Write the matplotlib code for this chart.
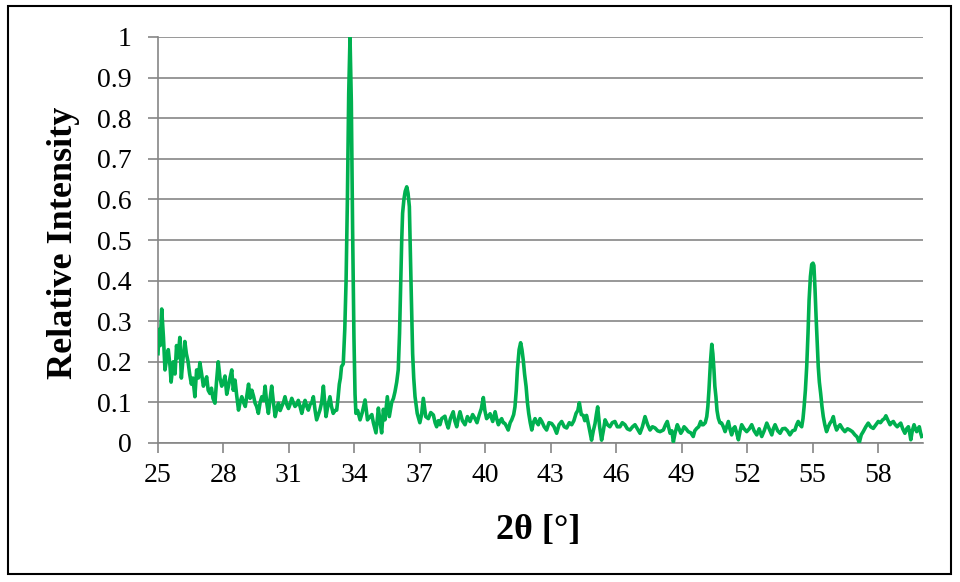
#!/usr/bin/env python3
# -*- coding: utf-8 -*-

import numpy as np
import matplotlib
matplotlib.use('Agg')
from matplotlib import pyplot as plt
from matplotlib.patches import Rectangle

# 2θ / relative intensity, split in four ranges
theta_low = [
    25.00, 25.05, 25.10, 25.17, 25.25, 25.32, 25.40, 25.47, 25.55, 25.60,
    25.70, 25.78, 25.85, 25.92, 26.00, 26.07, 26.15, 26.23, 26.30, 26.38,
    26.45, 26.53, 26.60, 26.69, 26.77, 26.85, 26.92, 27.00, 27.08, 27.15,
    27.23, 27.30, 27.38, 27.45, 27.52, 27.61, 27.68, 27.76, 27.84, 27.92,
    28.00, 28.07, 28.15, 28.23, 28.30, 28.38, 28.45, 28.53, 28.60, 28.69,
    28.76, 28.84, 28.92, 29.00, 29.08, 29.15, 29.22, 29.30, 29.38, 29.45,
    29.52, 29.60, 29.68, 29.76, 29.84, 29.91, 29.98, 30.06, 30.14, 30.21,
    30.29, 30.37, 30.45, 30.52, 30.60, 30.67, 30.75, 30.82, 30.90, 30.98,
    31.05, 31.13, 31.20, 31.28, 31.36, 31.43, 31.51, 31.59, 31.66, 31.74,
    31.82, 31.89, 31.97, 32.05, 32.12, 32.20, 32.27, 32.35, 32.42, 32.50,
    32.58, 32.64, 32.70, 32.78, 32.88, 32.95, 33.03, 33.11, 33.19, 33.25,
    33.31, 33.36, 33.41, 33.49]
int_low = [
    0.22, 0.28, 0.24, 0.33, 0.26, 0.18, 0.21, 0.23, 0.19, 0.15,
    0.20, 0.17, 0.24, 0.21, 0.26, 0.16, 0.21, 0.25, 0.22, 0.20,
    0.17, 0.145, 0.16, 0.114, 0.18, 0.16, 0.198, 0.17, 0.14, 0.15,
    0.163, 0.13, 0.122, 0.135, 0.11, 0.098, 0.15, 0.20, 0.16, 0.14,
    0.15, 0.165, 0.12, 0.14, 0.16, 0.18, 0.13, 0.155, 0.12, 0.081,
    0.10, 0.114, 0.10, 0.09, 0.12, 0.145, 0.11, 0.13, 0.115, 0.098,
    0.09, 0.073, 0.10, 0.114, 0.105, 0.14, 0.10, 0.073, 0.11, 0.14,
    0.10, 0.065, 0.085, 0.098, 0.08, 0.09, 0.10, 0.114, 0.095, 0.085,
    0.095, 0.11, 0.10, 0.09, 0.095, 0.105, 0.09, 0.073, 0.09, 0.105,
    0.09, 0.081, 0.095, 0.10, 0.114, 0.08, 0.057, 0.07, 0.081, 0.10,
    0.14, 0.10, 0.065, 0.09, 0.114, 0.09, 0.073, 0.08, 0.081, 0.11,
    0.145, 0.16, 0.188, 0.195]

theta_main = [
    33.56, 33.62, 33.68, 33.74, 33.80, 33.86, 33.92, 33.98, 34.03, 34.07,
    34.15, 34.26, 34.36, 34.49, 34.60, 34.72, 34.80, 34.87, 34.99, 35.10,
    35.18, 35.25, 35.33, 35.40, 35.51, 35.60, 35.71, 35.79, 35.86, 35.94,
    36.01, 36.07, 36.12, 36.17, 36.21, 36.27, 36.33, 36.40, 36.46, 36.52,
    36.56, 36.60, 36.64, 36.67, 36.72, 36.78, 36.88, 37.00, 37.08, 37.16,
    37.27]
int_main = [
    0.28, 0.40, 0.60, 0.86, 1.00, 0.84, 0.52, 0.26, 0.12, 0.073,
    0.08, 0.057, 0.075, 0.106, 0.057, 0.065, 0.07, 0.05, 0.025, 0.086,
    0.05, 0.025, 0.083, 0.057, 0.114, 0.065, 0.10, 0.11, 0.126, 0.15,
    0.18, 0.27, 0.385, 0.50, 0.566, 0.60, 0.62, 0.631, 0.615, 0.582,
    0.48, 0.385, 0.29, 0.22, 0.16, 0.114, 0.073, 0.05, 0.07, 0.11,
    0.065]

theta_mid = [
    37.39, 37.50, 37.62, 37.70, 37.77, 37.85, 37.92, 38.00, 38.15, 38.22,
    38.30, 38.40, 38.53, 38.60, 38.69, 38.76, 38.84, 38.95, 39.07, 39.18,
    39.30, 39.42, 39.53, 39.62, 39.72, 39.82, 39.91, 39.98, 40.06, 40.14,
    40.22, 40.34, 40.45, 40.52, 40.60, 40.68, 40.75, 40.82, 40.90, 40.98,
    41.05, 41.14, 41.21, 41.30, 41.36, 41.42, 41.47, 41.55, 41.62, 41.68,
    41.74, 41.80, 41.87, 41.93, 41.99, 42.06, 42.13, 42.20, 42.28, 42.36,
    42.43, 42.51, 42.59, 42.70, 42.81, 42.92, 43.04, 43.15, 43.27, 43.38,
    43.50, 43.62, 43.73, 43.85, 43.96, 44.06, 44.16, 44.24, 44.31, 44.40,
    44.49, 44.56, 44.64, 44.75, 44.87, 44.95, 45.03, 45.09, 45.15, 45.24,
    45.33, 45.41, 45.49, 45.60, 45.71, 45.82, 45.94, 46.05, 46.17, 46.28,
    46.40, 46.51, 46.63, 46.75, 46.86, 46.97, 47.09, 47.20, 47.32, 47.44,
    47.55, 47.66, 47.78, 47.90, 48.01]
int_mid = [
    0.06, 0.075, 0.069, 0.05, 0.04, 0.055, 0.045, 0.06, 0.066, 0.05,
    0.037, 0.06, 0.077, 0.055, 0.04, 0.06, 0.077, 0.055, 0.045, 0.065,
    0.053, 0.07, 0.06, 0.05, 0.069, 0.085, 0.112, 0.08, 0.06, 0.065,
    0.072, 0.053, 0.077, 0.06, 0.045, 0.055, 0.06, 0.05, 0.048, 0.04,
    0.032, 0.05, 0.057, 0.07, 0.089, 0.13, 0.18, 0.23, 0.247, 0.23,
    0.204, 0.17, 0.139, 0.10, 0.073, 0.05, 0.032, 0.05, 0.06, 0.05,
    0.045, 0.06, 0.053, 0.04, 0.032, 0.05, 0.048, 0.04, 0.024, 0.045,
    0.053, 0.04, 0.037, 0.05, 0.045, 0.055, 0.073, 0.08, 0.099, 0.07,
    0.068, 0.055, 0.068, 0.04, 0.007, 0.03, 0.048, 0.07, 0.089, 0.04,
    0.007, 0.03, 0.057, 0.045, 0.04, 0.05, 0.053, 0.04, 0.04, 0.05,
    0.045, 0.035, 0.032, 0.04, 0.045, 0.035, 0.024, 0.04, 0.065, 0.045,
    0.032, 0.04, 0.037, 0.03, 0.028]

theta_high = [
    48.16, 48.26, 48.34, 48.47, 48.55, 48.62, 48.70, 48.80, 48.88, 48.96,
    49.03, 49.11, 49.20, 49.30, 49.42, 49.53, 49.60, 49.69, 49.78, 49.87,
    49.93, 49.99, 50.08, 50.15, 50.20, 50.25, 50.32, 50.38, 50.43, 50.48,
    50.52, 50.57, 50.62, 50.68, 50.75, 50.83, 50.91, 50.99, 51.06, 51.14,
    51.21, 51.29, 51.36, 51.44, 51.52, 51.60, 51.68, 51.75, 51.86, 51.98,
    52.10, 52.21, 52.32, 52.44, 52.55, 52.67, 52.78, 52.90, 53.01, 53.13,
    53.20, 53.28, 53.40, 53.51, 53.62, 53.74, 53.85, 53.96, 54.08, 54.19,
    54.27, 54.34, 54.42, 54.50, 54.56, 54.61, 54.67, 54.73, 54.79, 54.84,
    54.90, 54.96, 55.02, 55.06, 55.11, 55.16, 55.21, 55.26, 55.31, 55.37,
    55.43, 55.49, 55.56, 55.64, 55.72, 55.80, 55.88, 55.95, 56.02, 56.10,
    56.18, 56.26, 56.37, 56.48, 56.60, 56.71, 56.82, 56.94, 57.04, 57.14,
    57.23, 57.32, 57.44, 57.55, 57.66, 57.78, 57.90, 58.01, 58.11, 58.21,
    58.29, 58.36, 58.46, 58.55, 58.62, 58.70, 58.79, 58.88, 58.96, 59.04,
    59.13, 59.23, 59.31, 59.39, 59.45, 59.50, 59.57, 59.65, 59.71, 59.77,
    59.83, 59.89, 59.95, 60.00]
int_high = [
    0.032, 0.045, 0.053, 0.024, 0.03, 0.003, 0.025, 0.045, 0.035, 0.024,
    0.03, 0.04, 0.035, 0.028, 0.025, 0.016, 0.03, 0.036, 0.04, 0.053,
    0.045, 0.045, 0.05, 0.065, 0.09, 0.13, 0.20, 0.243, 0.22, 0.18,
    0.14, 0.114, 0.08, 0.061, 0.05, 0.049, 0.04, 0.028, 0.04, 0.053,
    0.035, 0.02, 0.035, 0.04, 0.025, 0.008, 0.03, 0.045, 0.035, 0.028,
    0.035, 0.045, 0.03, 0.02, 0.035, 0.016, 0.03, 0.049, 0.035, 0.02,
    0.035, 0.045, 0.03, 0.024, 0.035, 0.036, 0.03, 0.02, 0.03, 0.032,
    0.045, 0.053, 0.045, 0.04, 0.06, 0.089, 0.13, 0.188, 0.27, 0.352,
    0.41, 0.44, 0.443, 0.437, 0.38, 0.311, 0.25, 0.188, 0.15, 0.122,
    0.09, 0.065, 0.045, 0.028, 0.04, 0.049, 0.055, 0.065, 0.045, 0.032,
    0.04, 0.045, 0.035, 0.028, 0.035, 0.032, 0.028, 0.02, 0.015, 0.001,
    0.02, 0.028, 0.04, 0.049, 0.04, 0.036, 0.045, 0.053, 0.05, 0.057,
    0.06, 0.067, 0.055, 0.045, 0.05, 0.053, 0.045, 0.04, 0.045, 0.049,
    0.035, 0.024, 0.035, 0.04, 0.025, 0.008, 0.03, 0.045, 0.035, 0.028,
    0.035, 0.04, 0.025, 0.016]

x_ticks = [25, 28, 31, 34, 37, 40, 43, 46, 49, 52, 55, 58]
y_ticks = [0, 0.1, 0.2, 0.3, 0.4, 0.5, 0.6, 0.7, 0.8, 0.9, 1]
y_tick_labels = ['0', '0.1', '0.2', '0.3', '0.4', '0.5', '0.6', '0.7', '0.8', '0.9', '1']

two_theta = np.array(theta_low + theta_main + theta_mid + theta_high)
intensity = np.array(int_low + int_main + int_mid + int_high)

plt.rcParams['font.family'] = ['Liberation Serif', 'DejaVu Serif']
grid_gray = '#868686'

fig = plt.figure(figsize=(9.6, 5.82), dpi=100)
ax = fig.add_axes([158 / 960, 1 - 443 / 582, 765 / 960, 406 / 582])

ax.plot(two_theta, intensity, color='#00B050', lw=2.6, solid_joinstyle='round', zorder=3)

ax.set_xlim(25, 60.06)
ax.set_ylim(0, 1)
ax.set_xticks(x_ticks)
ax.set_xticklabels([str(t) for t in x_ticks])
ax.set_yticks(y_ticks)
ax.set_yticklabels(y_tick_labels)

# grid + axis look (Excel-like)
ax.set_axisbelow(True)
ax.yaxis.grid(True, color=grid_gray, lw=1.2)
for side in ['top', 'right']:
    ax.spines[side].set_visible(False)
for side in ['left', 'bottom']:
    ax.spines[side].set_color(grid_gray)
    ax.spines[side].set_linewidth(1.2)
ax.tick_params(axis='both', direction='out', length=7.2, width=1.2, color=grid_gray, labelsize=20)
ax.tick_params(axis='x', pad=7)
ax.tick_params(axis='y', pad=12)

ax.set_xlabel('2θ [°]', fontsize=26, fontweight='bold')
ax.xaxis.set_label_coords(0.497, -0.175)
ax.set_ylabel('Relative Intensity', fontsize=26, fontweight='bold')
ax.yaxis.label.set_verticalalignment('center')
ax.yaxis.set_label_coords(-0.123, 0.493)

# black frame around the whole picture
fig.patches.append(Rectangle((8 / 960, 1 - 574 / 582), 943 / 960, 568 / 582,
                             transform=fig.transFigure, fill=False, ec='black', lw=1.5))

fig.savefig('out.png', dpi=100)
